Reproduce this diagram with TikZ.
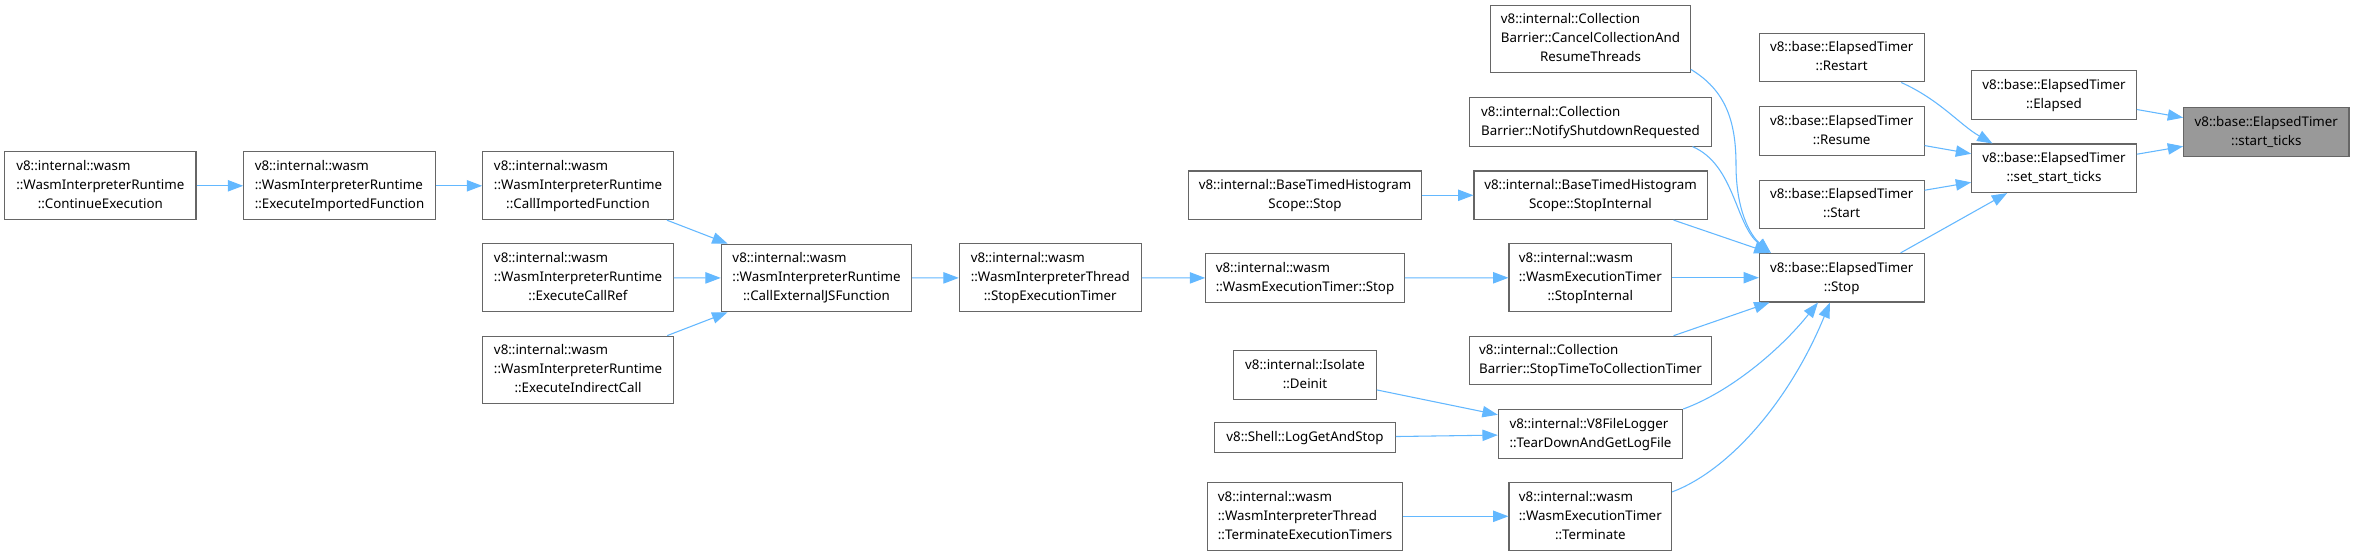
\documentclass[tikz,border=0pt]{standalone}
\usepackage{fontspec}
\setmainfont{Noto Sans}
\usetikzlibrary{arrows.meta}
\definecolor{dxgrey}{HTML}{666666}
\definecolor{dxfill}{HTML}{999999}
\definecolor{dxblue}{HTML}{63B8FF}
\newcommand{\lnii}[2]{\begin{tabular}{@{}l@{}}#1\\\multicolumn{1}{@{}c@{}}{#2}\end{tabular}}
\newcommand{\lniii}[3]{\begin{tabular}{@{}l@{}}#1\\#2\\\multicolumn{1}{@{}c@{}}{#3}\end{tabular}}

\begin{document}
\begin{tikzpicture}[
    x=0.75pt, y=-0.75pt,
    fn/.style={rectangle, draw=dxgrey, line width=0.8pt, fill=white, inner sep=0pt,
               font=\fontsize{10}{14.25}\selectfont},
    fn1/.style={fn, minimum height=22.3pt},
    fn2/.style={fn, minimum height=36.4pt},
    fn3/.style={fn, minimum height=50.8pt},
    call/.style={-{Triangle[length=11.5pt, width=8.5pt]}, line width=0.8pt, draw=dxblue}
  ]
    \path[fill=white] (0,0) rectangle (2354,556);

    \node[fn3, minimum width=143.5pt] (cont)     at (100.3,185.8) {\lniii{v8::internal::wasm}{::WasmInterpreterRuntime}{::ContinueExecution}};
    \node[fn3, minimum width=143.7pt] (execimp)  at (339.5,185.8) {\lniii{v8::internal::wasm}{::WasmInterpreterRuntime}{::ExecuteImportedFunction}};
    \node[fn3, minimum width=143pt]   (callimp)  at (578,185.8)   {\lniii{v8::internal::wasm}{::WasmInterpreterRuntime}{::CallImportedFunction}};
    \node[fn3, minimum width=143pt]   (callref)  at (578,277.8)   {\lniii{v8::internal::wasm}{::WasmInterpreterRuntime}{::ExecuteCallRef}};
    \node[fn3, minimum width=143pt]   (indirect) at (578,370)     {\lniii{v8::internal::wasm}{::WasmInterpreterRuntime}{::ExecuteIndirectCall}};
    \node[fn3, minimum width=142.8pt] (calljs)   at (816.5,278)   {\lniii{v8::internal::wasm}{::WasmInterpreterRuntime}{::CallExternalJSFunction}};
    \node[fn3, minimum width=136.5pt] (stopexec) at (1050.3,277.8) {\lniii{v8::internal::wasm}{::WasmInterpreterThread}{::StopExecutionTimer}};

    \node[fn2, minimum width=174.5pt] (bthsstop) at (1305,195.3)  {\lnii{v8::internal::BaseTimedHistogram}{Scope::Stop}};
    \node[fn2, minimum width=149pt]   (wetstop)  at (1305,278)    {\lnii{v8::internal::wasm}{::WasmExecutionTimer::Stop}};
    \node[fn2, minimum width=107pt]   (deinit)   at (1305,375.2)  {\lnii{v8::internal::Isolate}{::Deinit}};
    \node[fn1, minimum width=135.5pt] (logget)   at (1305,437.8)  {v8::Shell::LogGetAndStop};
    \node[fn3, minimum width=146pt]   (termall)  at (1305,516.3)  {\lniii{v8::internal::wasm}{::WasmInterpreterThread}{::TerminateExecutionTimers}};

    \node[fn3, minimum width=149.7pt] (cancel)   at (1590.5,39)    {\lniii{v8::internal::Collection}{Barrier::CancelCollectionAnd}{ResumeThreads}};
    \node[fn2, minimum width=181.2pt] (notify)   at (1590.5,121.8) {\lnii{v8::internal::Collection}{Barrier::NotifyShutdownRequested}};
    \node[fn2, minimum width=174.8pt] (bthsint)  at (1590.5,195.3) {\lnii{v8::internal::BaseTimedHistogram}{Scope::StopInternal}};
    \node[fn3, minimum width=122pt]   (wetint)   at (1590.3,277.7) {\lniii{v8::internal::wasm}{::WasmExecutionTimer}{::StopInternal}};
    \node[fn2, minimum width=181.8pt] (stoptime) at (1590.5,360.5) {\lnii{v8::internal::Collection}{Barrier::StopTimeToCollectionTimer}};
    \node[fn2, minimum width=138.3pt] (teardown) at (1590.5,433.8) {\lnii{v8::internal::V8FileLogger}{::TearDownAndGetLogFile}};
    \node[fn3, minimum width=122pt]   (wetterm)  at (1590.3,516.3) {\lniii{v8::internal::wasm}{::WasmExecutionTimer}{::Terminate}};

    \node[fn2, minimum width=123.5pt] (restart)  at (1841.7,57.7)  {\lnii{v8::base::ElapsedTimer}{::Restart}};
    \node[fn2, minimum width=123.5pt] (resume)   at (1841.7,131)   {\lnii{v8::base::ElapsedTimer}{::Resume}};
    \node[fn2, minimum width=123.5pt] (start)    at (1841.7,204.3) {\lnii{v8::base::ElapsedTimer}{::Start}};
    \node[fn2, minimum width=123.5pt] (stop)     at (1841.7,277.7) {\lnii{v8::base::ElapsedTimer}{::Stop}};

    \node[fn2, minimum width=123.5pt] (elapsed)  at (2054,95)      {\lnii{v8::base::ElapsedTimer}{::Elapsed}};
    \node[fn2, minimum width=123.5pt] (setticks) at (2054,168.3)   {\lnii{v8::base::ElapsedTimer}{::set\_start\_ticks}};
    \node[fn2, minimum width=124pt, fill=dxfill] (ticks) at (2266.3,132.2) {\lnii{v8::base::ElapsedTimer}{::start\_ticks}};

    \draw[call] (cont)     -- (execimp);
    \draw[call] (execimp)  -- (callimp);
    \draw[call] (callimp)  -- (calljs);
    \draw[call] (callref)  -- (calljs);
    \draw[call] (indirect) -- (calljs);
    \draw[call] (calljs)   -- (stopexec);
    \draw[call] (stopexec) -- (wetstop);
    \draw[call] (wetstop)  -- (wetint);
    \draw[call] (bthsstop) -- (bthsint);
    \draw[call] (deinit)   -- (teardown);
    \draw[call] (logget)   -- (teardown);
    \draw[call] (termall)  -- (wetterm);

    \draw[call] ([yshift=3pt]cancel.south east) .. controls (1725,90) and (1736,120) .. (1736,165)
                .. controls (1736,210) and (1750,235) .. ([xshift=9pt]stop.north west);
    \draw[call] ([xshift=-14.5pt]notify.south east) .. controls (1735,165) and (1735,225) .. ([xshift=9pt]stop.north west);
    \draw[call] ([xshift=-25.5pt]bthsint.south east) -- ([xshift=8pt]stop.north west);
    \draw[call] (wetint)   -- (stop);
    \draw[call] ([xshift=-29pt]stoptime.north east) -- ([xshift=8pt]stop.south west);
    \draw[call] (teardown.north east) .. controls (1730,392) and (1780,350) .. ([xshift=-17.8pt]stop.south);
    \draw[call] ([yshift=-7.5pt]wetterm.north east) .. controls (1730,470) and (1790,400) .. ([xshift=-8.8pt]stop.south);

    \draw[call] ([xshift=-17.5pt]restart.south east) .. controls (1940,100) and (1960,125) .. ([xshift=16pt]setticks.north west);
    \draw[call] (resume)   -- (setticks);
    \draw[call] (start)    -- (setticks);
    \draw[call] ([xshift=-18pt]stop.north east) -- ([xshift=27pt]setticks.south west);
    \draw[call] (elapsed)  -- (ticks);
    \draw[call] (setticks) -- (ticks);
\end{tikzpicture}
\end{document}
